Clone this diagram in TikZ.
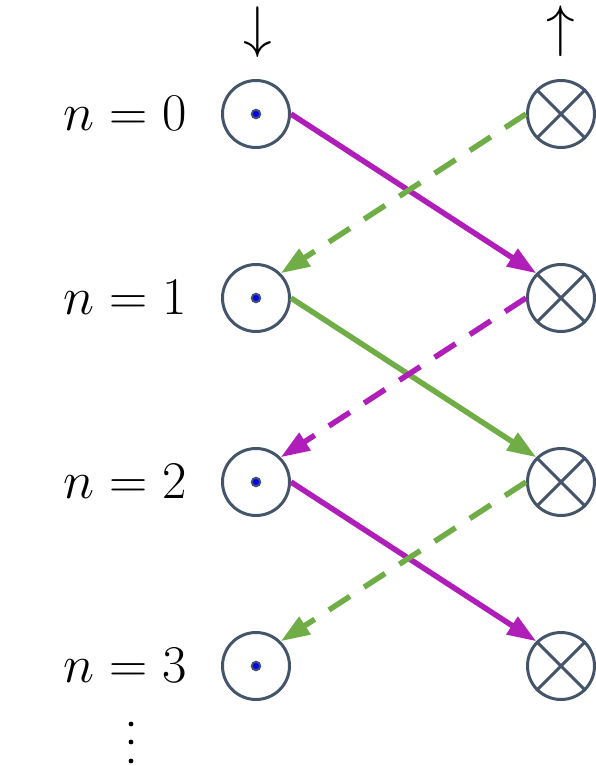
\documentclass[tikz,border=0pt]{standalone}
\usetikzlibrary{arrows.meta}
\definecolor{ringgray}{RGB}{68,84,106}
\definecolor{magline}{RGB}{175,30,185}
\definecolor{grnline}{RGB}{112,173,71}
\begin{document}
\begin{tikzpicture}[x=1pt,y=-1pt,
  wire/.style={circle,draw=ringgray,line width=3pt,minimum size=67pt,inner sep=0pt},
  dotc/.style={circle,draw=ringgray,fill=blue,line width=2pt,minimum size=8.5pt,inner sep=0pt},
  lbl/.style={anchor=base east,inner sep=0pt,font=\Huge,scale=2.13},
  dirsym/.style={inner sep=0pt,font=\Huge,scale=2.3},
  flow/.style={line width=5.5pt,-{Triangle[length=29pt,width=20pt]}},
  dsh/.style={dash pattern=on 25pt off 17pt},
  vdot/.style={circle,fill=black,minimum size=4.8pt,inner sep=0pt}]
\useasboundingbox (0,0) rectangle (596,766);
% direction symbols
\node[dirsym,anchor=south] (down) at (258,58) {$\downarrow$};
\node[dirsym,anchor=south] (up) at (561,57) {$\uparrow$};
% rows
\foreach \i/\y in {0/114,1/298,2/482,3/666}{
  \node[wire] (l\i) at (256,\y) {};
  \node[dotc] (c\i) at (256,\y) {};
  \node[wire] (r\i) at (561,\y) {};
  \draw[ringgray,line width=3pt] (r\i.north west) -- (r\i.south east)
                                 (r\i.north east) -- (r\i.south west);
}
\node[lbl] (n0) at (187,130) {$n=0$};
\node[lbl] (n1) at (187,314) {$n=1$};
\node[lbl] (n2) at (187,498) {$n=2$};
\node[lbl] (n3) at (187,682) {$n=3$};
% vertical dots
\node[vdot] (d1) at (131,724) {};
\node[vdot] (d2) at (131,742) {};
\node[vdot] (d3) at (131,761) {};
% connectors
\draw[flow,magline] (l0.east) -- (r1.north west);
\draw[flow,grnline,dsh] (r0.west) -- (l1.north east);
\draw[flow,grnline] (l1.east) -- (r2.north west);
\draw[flow,magline,dsh] (r1.west) -- (l2.north east);
\draw[flow,magline] (l2.east) -- (r3.north west);
\draw[flow,grnline,dsh] (r2.west) -- (l3.north east);
\end{tikzpicture}
\end{document}
